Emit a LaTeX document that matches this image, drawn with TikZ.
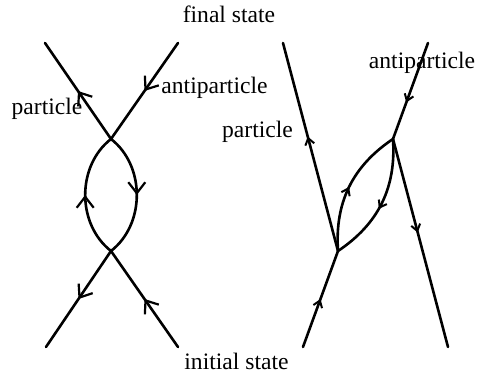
\documentclass[tikz,border=0pt]{standalone}
\usepackage{fontspec}
\setmainfont{Liberation Serif}
\usetikzlibrary{arrows.meta,decorations.markings}

\begin{document}
\begin{tikzpicture}[
    x=0.5pt, y=0.5pt,
    line/.style={line width=1.3pt, line cap=round},
    bigarrow/.style={line, postaction={decorate},
      decoration={markings, mark=at position #1 with {\arrow{Straight Barb[length=5.5pt,width=8.5pt,line width=1.1pt]}}}},
    bigarrow/.default=0.5,
    smallarrow/.style={line, postaction={decorate},
      decoration={markings, mark=at position #1 with {\arrow{Straight Barb[length=3.2pt,width=4.6pt,line width=1pt]}}}},
    smallarrow/.default=0.5,
    lbl/.style={anchor=base, inner sep=0pt, font=\fontsize{11.8}{14}\selectfont}
    ]
    \useasboundingbox (0,0) rectangle (484,374);

    % left diagram
    \coordinate (tl) at (45,331);
    \coordinate (tr) at (178,331);
    \coordinate (uv) at (111,235);
    \coordinate (lv) at (111,123);
    \coordinate (bl) at (46,27);
    \coordinate (br) at (178,27);

    \draw[bigarrow] (uv) -- (tl);
    \draw[bigarrow] (tr) -- (uv);
    \draw[bigarrow] (lv) -- (bl);
    \draw[bigarrow] (br) -- (lv);
    \draw[bigarrow] (lv) to[bend left=52] (uv);
    \draw[bigarrow] (uv) to[bend left=52] (lv);

    % right diagram
    \coordinate (ptop) at (283,331);
    \coordinate (lv2) at (338,123);
    \coordinate (pbot) at (303,27);
    \coordinate (atop) at (428,331);
    \coordinate (uv2) at (393,235);
    \coordinate (abot) at (448,27);

    \draw[smallarrow=0.55] (lv2) -- (ptop);
    \draw[smallarrow] (pbot) -- (lv2);
    \draw[smallarrow=0.62] (atop) -- (uv2);
    \draw[smallarrow=0.45] (uv2) -- (abot);
    \draw[smallarrow] (lv2) to[bend left=30] (uv2);
    \draw[smallarrow=0.55] (uv2) to[bend left=30] (lv2);

    % labels
    \node[lbl] (final) at (229,351) {final state};
    \node[lbl] (initial) at (236.5,4) {initial state};
    \node[lbl] (partL) at (47,259) {particle};
    \node[lbl] (antiL) at (214.5,280) {antiparticle};
    \node[lbl] (partR) at (257.5,236) {particle};
    \node[lbl] (antiR) at (422,305) {antiparticle};
\end{tikzpicture}
\end{document}
